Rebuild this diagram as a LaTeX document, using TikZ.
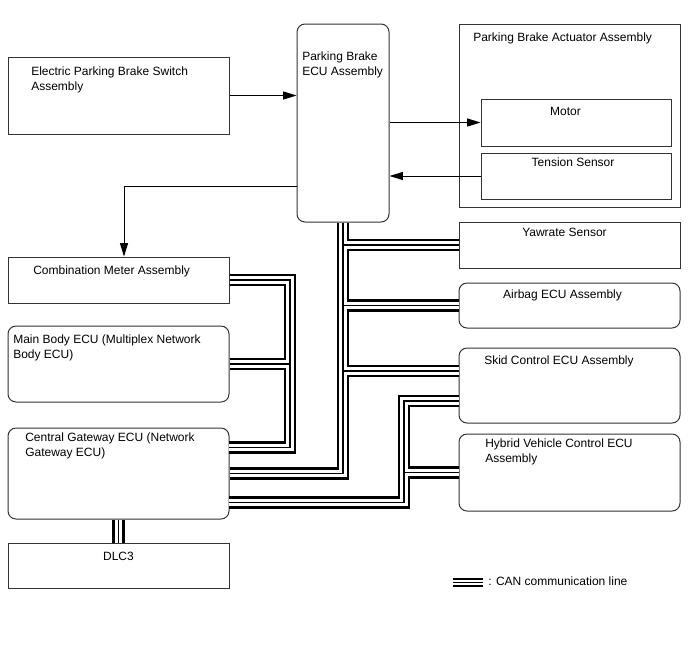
\documentclass[tikz,border=0pt]{standalone}
\usepackage{fontspec}
\setmainfont{Liberation Sans}
\usetikzlibrary{arrows.meta,fit}

\tikzset{
  box/.style={draw=black!80, line width=0.75pt, inner sep=0pt},
  rbox/.style={box, rounded corners=6pt},
  txt/.style={inner sep=0pt, align=left, anchor=north west},
  ctxt/.style={inner sep=0pt, anchor=north},
  arr/.style={line width=0.75pt, -{Triangle[length=10pt,width=6pt]}},
  canline/.style={draw=white, line width=5.6pt, line join=miter,
    preaction={draw=black, line width=9.4pt},
    postaction={draw=black, line width=1.1pt}},
  canleg/.style={draw=white, line width=3.6pt, line join=miter,
    preaction={draw=black, line width=6.5pt},
    postaction={draw=black, line width=0.9pt}},
}

\begin{document}
\begin{tikzpicture}[x=0.75pt, y=-0.75pt, font=\fontsize{9}{10.7}\selectfont]
\useasboundingbox (0,0) rectangle (688,658);
% boxes, corners in px of the sheet
\node[box,  fit={(8,57) (229,134)}]   (sw)   {};
\node[rbox, fit={(297,24) (389,222)}] (ecu)  {};
\node[box,  fit={(459,24) (680,207)}] (act)  {};
\node[box,  fit={(481,99) (671,146)}] (mot)  {};
\node[box,  fit={(481,153) (671,199)}] (ten) {};
\node[box,  fit={(459,222) (680,268)}] (yaw) {};
\node[rbox, fit={(459,283) (680,328)}] (air) {};
\node[rbox, fit={(459,348) (680,423)}] (skid) {};
\node[rbox, fit={(459,434) (680,511)}] (hyb) {};
\node[box,  fit={(8,257) (229,303)}]  (cm)   {};
\node[rbox, fit={(8,326) (229,402)}]  (mb)   {};
\node[rbox, fit={(8,428) (229,519)}]  (gw)   {};
\node[box,  fit={(8,543) (229,588)}]  (dlc)  {};
% labels
\node[txt]  (sw-t)   at (31,67)  {Electric Parking Brake Switch\\Assembly};
\node[txt]  (ecu-t)  at (302,52) {Parking Brake\\ECU Assembly};
\node[txt]  (act-t)  at (473,33) {Parking Brake Actuator Assembly};
\node[ctxt] (mot-t)  at (565.5,107) {Motor};
\node[ctxt] (ten-t)  at (573,158) {Tension Sensor};
\node[ctxt] (yaw-t)  at (564.5,228) {Yawrate Sensor};
\node[ctxt] (air-t)  at (562.5,290) {Airbag ECU Assembly};
\node[txt]  (skid-t) at (484,356) {Skid Control ECU Assembly};
\node[txt]  (hyb-t)  at (485,439) {Hybrid Vehicle Control ECU\\Assembly};
\node[txt]  (cm-t)   at (33,266) {Combination Meter Assembly};
\node[txt]  (mb-t)   at (13,335) {Main Body ECU (Multiplex Network\\Body ECU)};
\node[txt]  (gw-t)   at (25,433) {Central Gateway ECU (Network\\Gateway ECU)};
\node[ctxt] (dlc-t)  at (118.5,552) {DLC3};
\node[txt]  (leg)    at (488,577) {: CAN communication line};
% signal lines
\coordinate (dn) at (124,186.7);
\draw[arr] (sw.east) -- (sw.east -| ecu.west);
\draw[arr] (ecu.east |- mot.west) -- (mot.west);
\draw[arr] (ten.west) -- (ten.west -| ecu.east);
\draw[arr] (ecu.west |- dn) -- (dn) -- (dn |- cm.north);
% CAN buses
\coordinate (upx) at (343,0);
\coordinate (lfx) at (290,0);
\coordinate (lox) at (404,0);
\coordinate (gwa) at (229,447.5);
\coordinate (gwb) at (229,502.5);
\coordinate (ska) at (459,371);
\coordinate (skb) at (459,401);
\draw[canline] (ecu.south -| upx) -- (gw.east -| upx) -- (gw.east)
  (yaw.west -| upx) -- (yaw.west)
  (air.west -| upx) -- (air.west)
  (ska -| upx) -- (ska);
\draw[canline] (cm.east) -- (cm.east -| lfx) -- (gwa -| lfx) -- (gwa)
  (mb.east) -- (mb.east -| lfx);
\draw[canline] (gwb) -- (gwb -| lox) -- (skb -| lox) -- (skb)
  (hyb.west -| lox) -- (hyb.west);
\draw[canline] (gw.south) -- (dlc.north);
% legend
\coordinate (legs) at (453,582.5);
\draw[canleg] (legs) -- ([xshift=-3.7pt]legs -| leg.west);
\end{tikzpicture}
\end{document}
